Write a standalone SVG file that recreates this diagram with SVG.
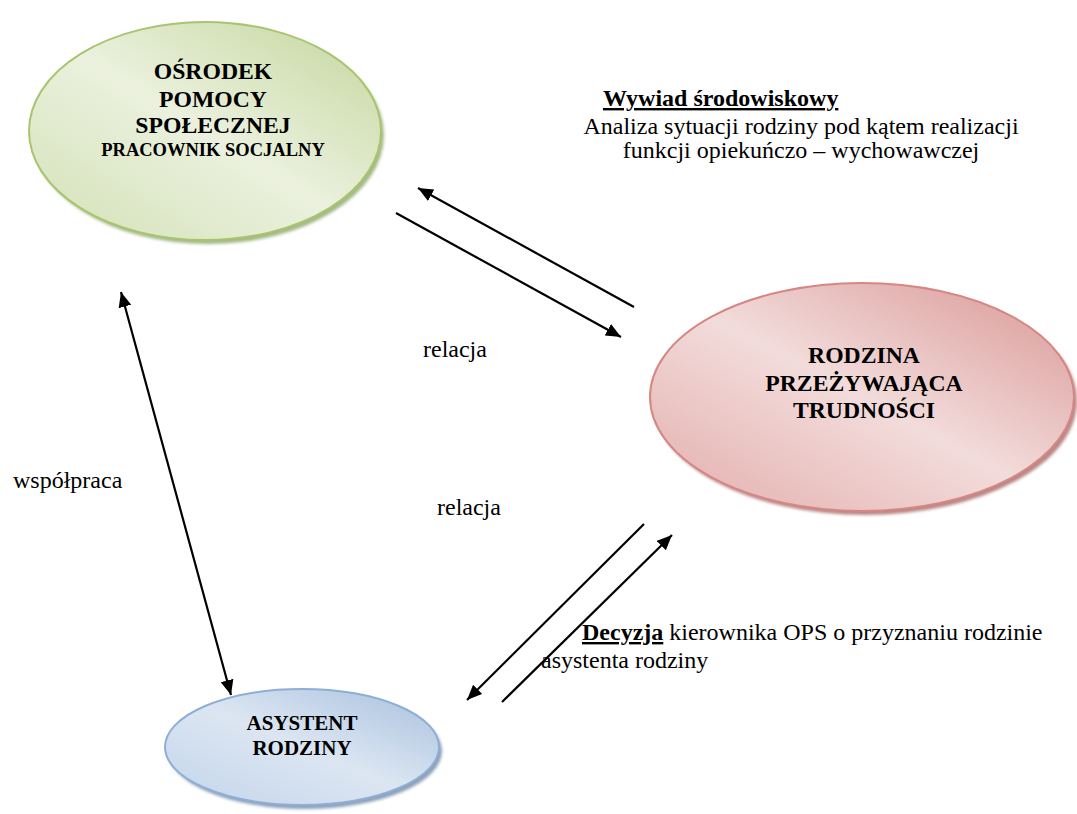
<svg xmlns="http://www.w3.org/2000/svg" width="1077" height="814" viewBox="0 0 1077 814">
<style>
text{font-family:"Liberation Serif","Times New Roman",Times,"DejaVu Serif",serif;fill:#000}
.b{font-weight:bold}
.n{font-size:23.7px;text-anchor:middle;font-weight:bold}
.t{font-size:24px}
.c{stroke:#000;stroke-width:2.2;fill:none}
.sh{filter:url(#blur)}
</style>
<defs>
<filter id="blur" x="-10%" y="-10%" width="120%" height="120%"><feGaussianBlur stdDeviation="1.5"/></filter>
<linearGradient id="gG" x1="1" y1="0" x2="0" y2="1">
<stop offset="0" stop-color="#c3d69b"/><stop offset="0.5" stop-color="#ebf1de"/><stop offset="1" stop-color="#d3e1b6"/>
</linearGradient>
<linearGradient id="gR" x1="1" y1="0" x2="0" y2="1">
<stop offset="0" stop-color="#d99694"/><stop offset="0.5" stop-color="#f2dcdb"/><stop offset="1" stop-color="#e3adab"/>
</linearGradient>
<linearGradient id="gB" x1="1" y1="0" x2="0" y2="1">
<stop offset="0" stop-color="#a7c0de"/><stop offset="0.5" stop-color="#dce6f2"/><stop offset="1" stop-color="#c2d4ea"/>
</linearGradient>
<marker id="ah" markerUnits="userSpaceOnUse" markerWidth="16" markerHeight="14" refX="15" refY="6.5" orient="auto-start-reverse">
<path d="M0,0 L15,6.5 L0,13 z" fill="#000"/>
</marker>
</defs>

<g id="node-ops">
<ellipse class="sh" cx="208" cy="135" rx="176" ry="109" fill="#8ea869" opacity="0.8"/>
<ellipse cx="205" cy="131" rx="176" ry="109" fill="url(#gG)" stroke="#a9c46f" stroke-width="2"/>
<text class="n" x="213" y="79">OŚRODEK</text>
<text class="n" x="213" y="107">POMOCY</text>
<text class="n" x="213" y="133">SPOŁECZNEJ</text>
<text class="n" x="213" y="156" style="font-size:18.5px">PRACOWNIK SOCJALNY</text>
</g>

<g id="node-rodzina">
<ellipse class="sh" cx="865" cy="401" rx="212" ry="114" fill="#a86966" opacity="0.8"/>
<ellipse cx="862" cy="397" rx="212" ry="114" fill="url(#gR)" stroke="#d68784" stroke-width="2"/>
<text class="n" x="864" y="363">RODZINA</text>
<text class="n" x="864" y="391">PRZEŻYWAJĄCA</text>
<text class="n" x="864" y="418">TRUDNOŚCI</text>
</g>

<g id="node-asystent">
<ellipse class="sh" cx="305" cy="751" rx="137" ry="58" fill="#7089a8" opacity="0.8"/>
<ellipse cx="302" cy="747" rx="137" ry="58" fill="url(#gB)" stroke="#8eaed6" stroke-width="2"/>
<text class="n" x="302" y="730" style="font-size:21px">ASYSTENT</text>
<text class="n" x="302" y="755" style="font-size:21px">RODZINY</text>
</g>

<g id="connectors">
<line class="c" x1="634" y1="307" x2="418" y2="188" marker-end="url(#ah)"/>
<line class="c" x1="396" y1="213" x2="621" y2="337" marker-end="url(#ah)"/>
<line class="c" x1="644" y1="524" x2="467" y2="700" marker-end="url(#ah)"/>
<line class="c" x1="502" y1="702" x2="672" y2="535" marker-end="url(#ah)"/>
<line class="c" x1="121" y1="292" x2="231" y2="695" marker-start="url(#ah)" marker-end="url(#ah)"/>
</g>

<g id="labels">
<text class="t b" x="603" y="106" text-decoration="underline">Wywiad środowiskowy</text>
<text class="t" x="801" y="134" text-anchor="middle">Analiza sytuacji rodziny pod kątem realizacji</text>
<text class="t" x="801" y="158" text-anchor="middle">funkcji opiekuńczo – wychowawczej</text>
<text class="t" x="423" y="357">relacja</text>
<text class="t" x="437" y="515">relacja</text>
<text class="t" x="13" y="488">współpraca</text>
<text class="t" x="582" y="640"><tspan class="b" text-decoration="underline">Decyzja</tspan> kierownika OPS o przyznaniu rodzinie</text>
<text class="t" x="541" y="668">asystenta rodziny</text>
</g>
</svg>
